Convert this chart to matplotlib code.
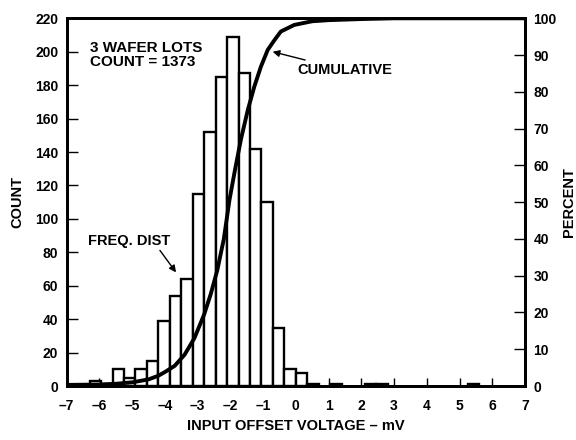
import matplotlib
matplotlib.use("Agg")
import matplotlib.pyplot as plt

plt.rcParams["font.family"] = ["Liberation Sans", "DejaVu Sans"]
plt.rcParams["font.weight"] = "bold"

# histogram bins (left edge, mV) and counts
bin_left = [-6.3, -5.95, -5.6, -5.25, -4.9, -4.55, -4.2, -3.85, -3.5, -3.15,
            -2.8, -2.45, -2.1, -1.75, -1.4, -1.05, -0.7, -0.35, 0.0, 0.35,
            1.05, 2.1, 2.45, 5.25]
counts = [3, 1, 10, 5, 10, 15, 39, 54, 64, 115,
          152, 185, 209, 187, 142, 110, 35, 10, 8, 1,
          1, 1, 1, 1]
BIN_W = 0.35

# cumulative curve (mV, %)
cum_v = [-7.0, -6.0, -5.5, -5.0, -4.5, -4.2, -4.0, -3.7, -3.4, -3.1, -2.8,
         -2.6, -2.4, -2.2, -2.03, -1.88, -1.68, -1.47, -1.27, -1.07, -0.86,
         -0.66, -0.46, -0.05, 0.5, 1.0, 2.0, 3.0, 7.0]
cum_pct = [0.3, 0.4, 0.6, 1.0, 1.8, 2.8, 3.8, 5.5, 8.5, 13.0, 19.5,
           25.0, 31.5, 40.0, 50.5, 57.8, 67.0, 75.0, 81.4, 86.8, 91.4,
           94.0, 96.4, 98.2, 99.2, 99.5, 99.8, 100.0, 100.0]

x_ticks = list(range(-7, 8))
x_labels = [f"–{abs(t)}" if t < 0 else str(t) for t in x_ticks]

fig = plt.figure(figsize=(5.76, 4.40), dpi=100)
ax = fig.add_axes([0.1158, 0.1227, 0.7957, 0.8357])
ax2 = ax.twinx()

ax.bar(bin_left, counts, width=BIN_W, align="edge", color="white",
       edgecolor="black", linewidth=1.7, zorder=2)
ax2.plot(cum_v, cum_pct, color="black", linewidth=2.8, zorder=3,
         solid_capstyle="butt")

ax.set_xlim(-7, 7)
ax.set_ylim(0, 220)
ax2.set_ylim(0, 100)

ax.set_xticks(x_ticks)
ax.set_xticklabels(x_labels)
ax.set_yticks(range(0, 221, 20))
ax2.set_yticks(range(0, 101, 10))

for a in (ax, ax2):
    for s in a.spines.values():
        s.set_linewidth(2.0)
ax.tick_params(axis="x", direction="in", length=6, width=1.0,
               labelsize=10, pad=9)
ax.tick_params(axis="y", direction="in", length=8, width=1.0,
               labelsize=10, pad=6)
ax2.tick_params(axis="y", direction="in", length=8, width=1.0,
                labelsize=10, pad=6)

ax.set_xlabel("INPUT OFFSET VOLTAGE – mV", fontsize=10.5, fontweight="bold",
              labelpad=5)
ax.set_ylabel("COUNT", fontsize=10.5, fontweight="bold", labelpad=8)
ax2.set_ylabel("PERCENT", fontsize=10.5, fontweight="bold", labelpad=4)

ax.text(-6.3, 198, "3 WAFER LOTS\nCOUNT = 1373", fontsize=11,
        fontweight="bold", va="center", ha="left", linespacing=1.05)

ax.annotate("CUMULATIVE", xy=(-0.71, 200), xytext=(0.05, 189),
            fontsize=10.5, fontweight="bold", va="center", ha="left",
            arrowprops=dict(arrowstyle="-|>", color="black", lw=1.0,
                            shrinkA=1, shrinkB=0, mutation_scale=10))
ax.annotate("FREQ. DIST", xy=(-3.66, 68), xytext=(-6.35, 87),
            fontsize=10.5, fontweight="bold", va="center", ha="left",
            arrowprops=dict(arrowstyle="-|>", color="black", lw=1.0,
                            shrinkA=0, shrinkB=0, mutation_scale=10,
                            relpos=(0.85, 0.0)))

fig.savefig("out.png", dpi=100)
